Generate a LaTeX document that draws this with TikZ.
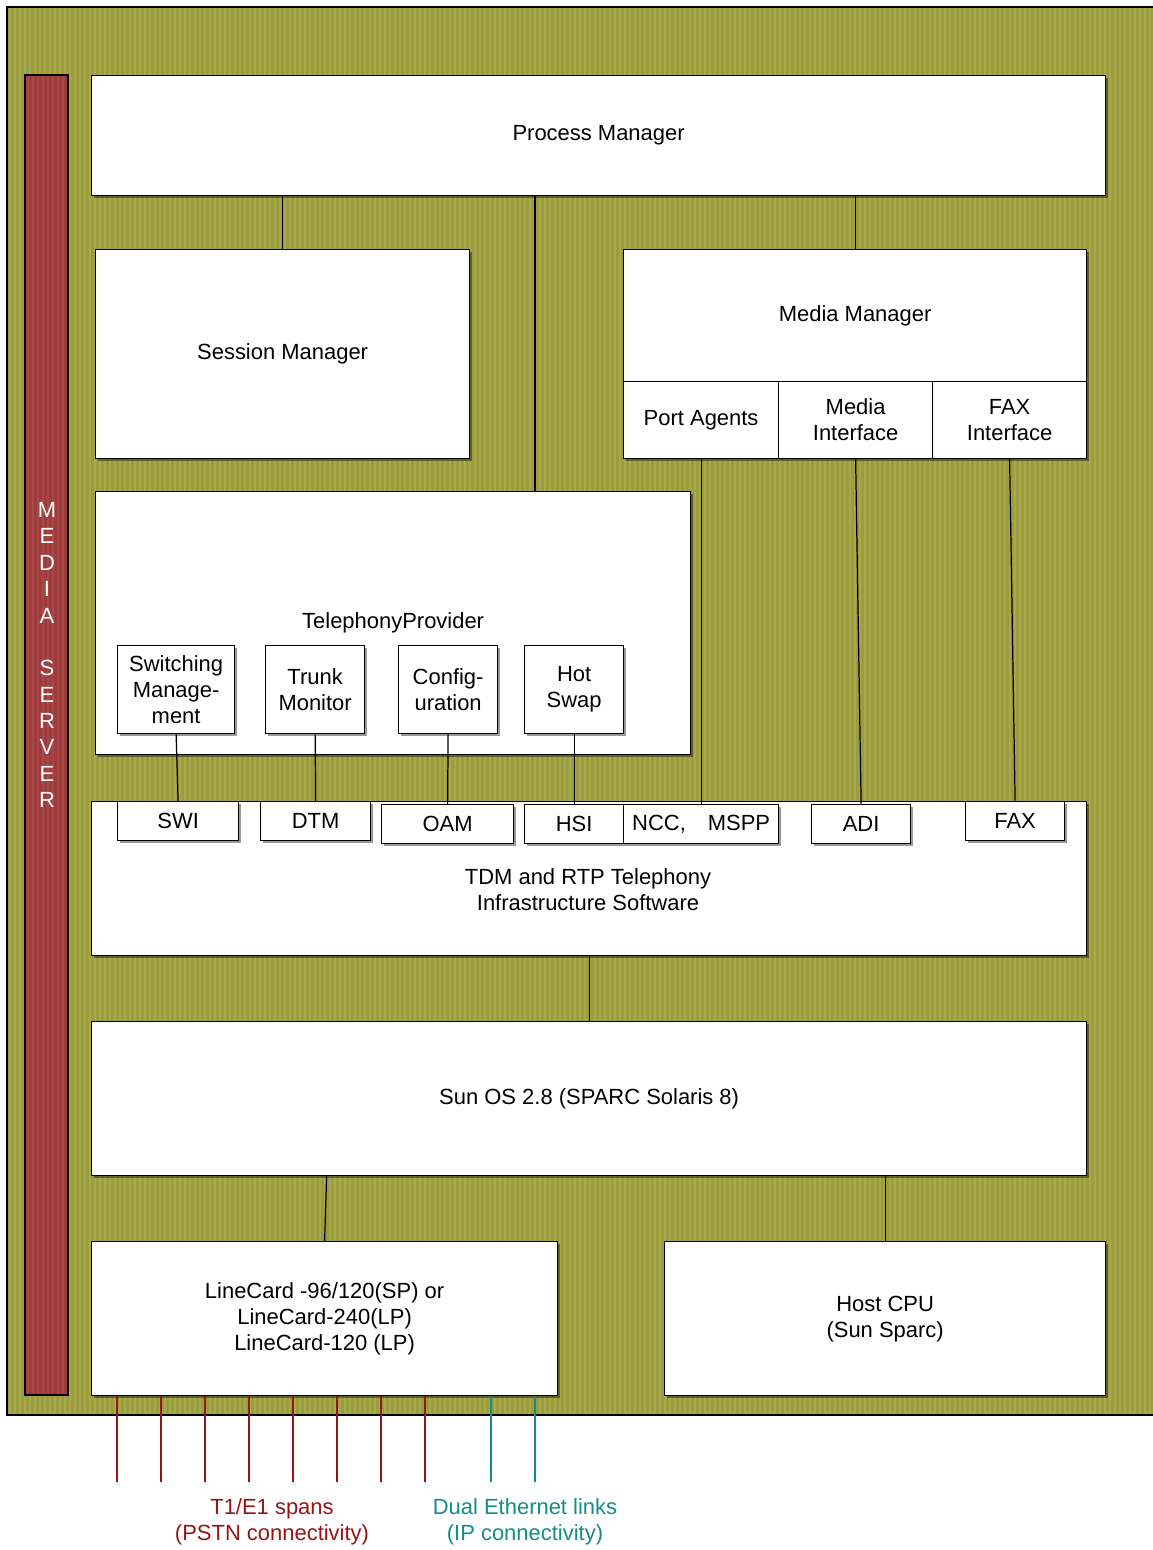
\documentclass[tikz,border=0pt]{standalone}
\usepackage{fontspec}
\setmainfont{Liberation Sans}
\usetikzlibrary{shadows}
\definecolor{olive}{RGB}{155,157,62}
\definecolor{olivelt}{RGB}{167,169,74}
\definecolor{barred}{RGB}{158,60,60}
\definecolor{barredlt}{RGB}{170,72,72}
\definecolor{spanred}{RGB}{150,20,20}
\definecolor{ethteal}{RGB}{20,140,140}
\newcommand{\pxu}{0.02cm}

\begin{document}
\begin{tikzpicture}[x=0.02cm, y=-0.02cm, line width=0.7pt,
        font=\fontsize{12.5}{14.8}\selectfont,
        blk/.style 2 args={draw, fill=white, inner sep=0pt, align=center,
            anchor=north west, minimum width=#1*\pxu, minimum height=#2*\pxu,
            drop shadow={shadow xshift=2*\pxu, shadow yshift=-2*\pxu, fill=black, opacity=0.4}},
        span/.style={spanred, line width=0.6pt},
        eth/.style={ethteal, line width=0.6pt}]
    \useasboundingbox (0,0) rectangle (1152,1550);

    % background and media server bar
    \fill[olive] (7,7) rectangle (1170,1415);
    \foreach \x in {10,15,...,1150}
        \draw[olivelt, line width=2.5*\pxu] (\x,8) -- (\x,1414);
    \draw (1170,7) -- (7,7) -- (7,1415) -- (1170,1415);
    \fill[barred] (25,75) rectangle (68,1395);
    \foreach \x in {28,33,...,66}
        \draw[barredlt, line width=2.5*\pxu] (\x,76) -- (\x,1394);
    \draw (25,75) rectangle (68,1395);
    \node[text=white, align=center, font=\fontsize{12.5}{15}\selectfont] (ms) at (47,655)
        {M\\E\\D\\I\\A\\[15pt]S\\E\\R\\V\\E\\R};

    % boxes
    \node[blk={1014}{120}] (pm) at (91,75) {Process Manager};
    \node[blk={374}{209}] (sm) at (95,249) {Session Manager};
    \node[blk={463}{132}] (mm) at (623,249) {Media Manager};
    \node[blk={155}{77}] (pa) at (623,381) {Port Agents};
    \node[blk={154}{77}] (mi) at (778,381) {Media\\Interface};
    \node[blk={154}{77}] (fi) at (932,381) {FAX\\Interface};
    \node[blk={595}{263}] (tp) at (95,491) {TelephonyProvider};
    \node[blk={117}{88}] (swm) at (117,645) {Switching\\Manage-\\ment};
    \node[blk={99}{88}] (trm) at (265,645) {Trunk\\Monitor};
    \node[blk={99}{88}] (cfg) at (398,645) {Config-\\uration};
    \node[blk={99}{88}] (hsw) at (524,645) {Hot\\Swap};
    \node[blk={995}{154}] (tdm) at (91,801) {};
    \node[align=center] (tdmt) at (588,890) {TDM and RTP Telephony\\Infrastructure Software};
    \node[blk={121}{39}] (swi) at (117,801) {SWI};
    \node[blk={110}{39}] (dtm) at (260,801) {DTM};
    \node[blk={132}{39}] (oam) at (381,804) {OAM};
    \node[blk={99}{39}] (hsi) at (524,804) {HSI};
    \node[blk={155}{39}] (ncc) at (623,804) {NCC,\quad MSPP};
    \node[blk={99}{39}] (adi) at (811,804) {ADI};
    \node[blk={99}{39}] (fax) at (965,801) {FAX};
    \node[blk={995}{154}] (sun) at (91,1021) {Sun OS 2.8 (SPARC Solaris 8)};
    \node[blk={466}{154}] (lc) at (91,1241) {LineCard -96/120(SP) or\\LineCard-240(LP)\\LineCard-120 (LP)};
    \node[blk={441}{154}] (cpu) at (664,1241) {Host CPU\\(Sun Sparc)};

    % connectors
    \draw (sm.north) -- (sm.north |- pm.south);
    \draw ([xshift=440*\pxu]tp.north west) coordinate (tpin) -- (tpin |- pm.south);
    \draw (mm.north) -- (mm.north |- pm.south);
    \draw (swm.south) -- (swi.north);
    \draw (trm.south) -- (dtm.north);
    \draw (cfg.south) -- (oam.north);
    \draw (hsw.south) -- (hsi.north);
    \draw (pa.south) -- (ncc.north);
    \draw (mi.south) -- (adi.north);
    \draw (fi.south) -- (fax.north);
    \draw (tdm.south) -- (sun.north);
    \draw ([xshift=2*\pxu]sun.south -| lc.north) -- (lc.north);
    \draw (cpu.north) -- (cpu.north |- sun.south);

    % spans and links
    \foreach \x in {26,70,...,334}
        \draw[span] ([xshift=\x*\pxu]lc.south west) -- ++(0,86);
    \foreach \x in {400,444}
        \draw[eth] ([xshift=\x*\pxu]lc.south west) -- ++(0,86);
    \node[text=spanred, align=center] (spl) at (272,1522) {T1/E1 spans\\(PSTN connectivity)};
    \node[text=ethteal, align=center] (ethl) at (525,1522) {Dual Ethernet links\\(IP connectivity)};
\end{tikzpicture}
\end{document}
